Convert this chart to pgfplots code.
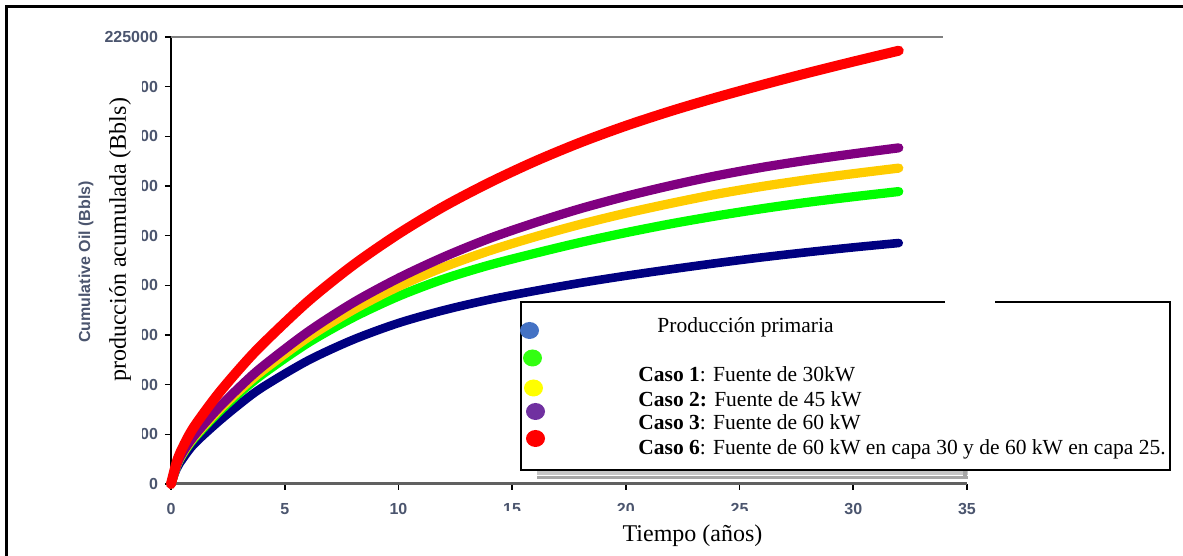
\documentclass[border=0pt]{standalone}
\usepackage{fontspec}
\setmainfont{Liberation Serif}
\setsansfont{Liberation Sans}
\usepackage{pgfplots}
\pgfplotsset{compat=1.18}

\definecolor{tickc}{RGB}{75,85,110}
\definecolor{cred}{RGB}{255,0,0}
\definecolor{cpurple}{RGB}{128,0,128}
\definecolor{cyellow}{RGB}{255,204,0}
\definecolor{cgreen}{RGB}{0,255,0}
\definecolor{cblue}{RGB}{0,0,128}
\definecolor{lblue}{RGB}{68,114,196}
\definecolor{lgreen}{RGB}{51,255,17}
\definecolor{lyellow}{RGB}{255,255,0}
\definecolor{lpurple}{RGB}{112,48,160}
\definecolor{lred}{RGB}{255,0,0}

% cumulative oil (Bbls) vs time (years)
\pgfplotstableread{
x y
0 0
0.25 7700
0.5 12400
1 19900
2 30500
3 40000
4 48500
6 62000
8 72600
10 81000
12 87500
14 92800
16 97200
18 101200
20 104800
22 108100
24 111200
26 114100
28 116700
30 119100
32 121300
}\primaria
\pgfplotstableread{
x y
0 0
0.25 9100
0.5 14700
1 22800
2 35100
3 45700
4 55100
6 70900
8 83800
10 94500
12 103200
14 110200
16 116100
18 121600
20 126500
22 131000
24 135000
26 138600
28 141800
30 144600
32 147200
}\casouno
\pgfplotstableread{
x y
0 0
0.25 9300
0.5 15100
1 23400
2 36000
3 47000
4 56800
6 73600
8 87600
10 99400
12 109200
14 117400
16 124400
18 130700
20 136300
22 141300
24 145900
26 149800
28 153200
30 156200
32 159000
}\casodos
\pgfplotstableread{
x y
0 0
0.25 9500
0.5 15600
1 24000
2 37200
3 48600
4 58900
6 76400
8 91200
10 103600
12 114300
14 123600
16 131500
18 138600
20 144800
22 150300
24 155200
26 159400
28 163000
30 166200
32 169200
}\casotres
\pgfplotstableread{
x y
0 0
0.25 11000
0.5 18000
1 28500
2 44200
3 57800
4 70100
6 91700
8 110100
10 125900
12 139700
14 151700
16 162400
18 171900
20 180300
22 187800
24 194600
26 200900
28 206900
30 212600
32 218100
}\casoseis

\begin{document}
\begin{tikzpicture}
\useasboundingbox (0,0) rectangle (591.5pt,278pt);
\begin{axis}[
  at={(85.5pt,36pt)}, anchor=south west,
  scale only axis, width=398pt, height=223.5pt,
  xmin=0, xmax=35, ymin=0, ymax=225000,
  axis x line*=bottom, axis y line*=left,
  x axis line style={draw=gray!75!black, line width=1.5pt},
  y axis line style={draw=black, line width=1pt},
  xtick={0,5,...,35}, ytick={0,25000,...,225000},
  xticklabels={0,5,10,15,20,25,30,35},
  yticklabels={0,25000,50000,75000,100000,125000,150000,175000,200000,225000},
  scaled y ticks=false,
  tick align=outside,
  major tick length=3pt,
  tick style={black, line width=0.8pt},
  ticklabel style={font=\sffamily\bfseries\fontsize{8}{9}\selectfont, text=tickc},
  xticklabel style={yshift=-3pt},
  clip=false,
  every axis plot/.append style={line cap=round, line join=round, smooth},
]
\draw[gray, line width=0.8pt] (axis cs:0,225000) -- (axis cs:33.95,225000);
\addplot[cblue, line width=4.3pt] table {\primaria};
\addplot[cgreen, line width=4.6pt] table {\casouno};
\addplot[cyellow, line width=4.6pt] table {\casodos};
\addplot[cpurple, line width=4.6pt] table {\casotres};
\addplot[cred, line width=5pt] table {\casoseis};
\end{axis}

\begin{scope}[x=0.5pt, y=-0.5pt, shift={(0pt,278pt)}]
  % frame (only top and left are in the picture)
  \draw[line width=1.3pt] (6.5,556) -- (6.5,6.5) -- (1183,6.5);
  % overlaid axis labels
  \fill[white] (98,72) rectangle (142,446);
  \node[rotate=90, font=\fontsize{12}{14}\selectfont] at (120,240) {producción acumulada (Bbls)};
  \node[rotate=90, font=\sffamily\bfseries\fontsize{8}{9}\selectfont, text=tickc] at (86,262) {Cumulative Oil (Bbls)};
  \fill[white] (490,511) rectangle (800,556);
  \node[font=\fontsize{12}{14}\selectfont] at (692.5,536) {Tiempo (años)};
  % legend box
  \fill[gray!45] (537,471) rectangle (968,475);
  \fill[gray!70] (537,476.5) rectangle (968,479.5);
  \fill[gray!70] (963,466) rectangle (967,479.5);
  \fill[white] (521,302) rectangle (1170,470);
  \draw[line width=0.6pt] (945,302) -- (521,302) -- (521,470) -- (1170,470) -- (1170,302) -- (995,302);
  \fill[lblue] (529.5,330.5) ellipse (4.75pt and 4.25pt);
  \fill[lgreen] (532.5,358) ellipse (4.75pt and 4.25pt);
  \fill[lyellow] (533.5,388) ellipse (4.75pt and 4.25pt);
  \fill[lpurple] (535.5,411.5) ellipse (4.75pt and 4.25pt);
  \fill[lred] (535.5,438.5) ellipse (4.75pt and 4.25pt);
  \begin{scope}[every node/.style={font=\fontsize{10.75}{12}\selectfont, inner sep=0pt}]
    \node[anchor=base] at (745.5,333) {Producción primaria};
    \node[anchor=base west] at (638,382) {\textbf{Caso 1}: Fuente de 30kW};
    \node[anchor=base west] at (638,407) {\textbf{Caso 2:} Fuente de 45 kW};
    \node[anchor=base west] at (638,430) {\textbf{Caso 3}: Fuente de 60 kW};
    \node[anchor=base west] at (638,455) {\textbf{Caso 6}: Fuente de 60 kW en capa 30 y de 60 kW en capa 25.};
  \end{scope}
\end{scope}
\end{tikzpicture}
\end{document}
